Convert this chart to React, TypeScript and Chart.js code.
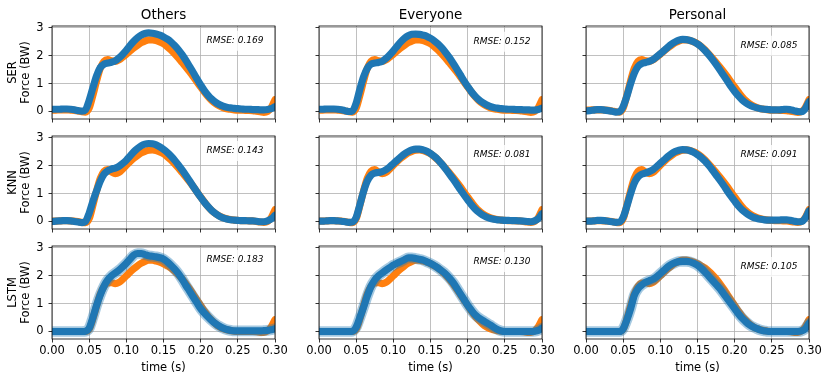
import React, { useEffect, useRef } from 'react';
import { Chart, registerables } from 'chart.js';

Chart.register(...registerables);

// ---------- data ----------
const TIME = [
  0, 0.005, 0.01, 0.015, 0.02, 0.025, 0.03, 0.035, 0.04, 0.045,
  0.05, 0.055, 0.06, 0.065, 0.07, 0.075, 0.08, 0.085, 0.09, 0.095,
  0.1, 0.105, 0.11, 0.115, 0.12, 0.125, 0.13, 0.135, 0.14, 0.145,
  0.15, 0.155, 0.16, 0.165, 0.17, 0.175, 0.18, 0.185, 0.19, 0.195,
  0.2, 0.205, 0.21, 0.215, 0.22, 0.225, 0.23, 0.235, 0.24, 0.245,
  0.25, 0.255, 0.26, 0.265, 0.27, 0.275, 0.28, 0.285, 0.29, 0.295, 0.3,
];
const X_TICKS = [0, 0.05, 0.1, 0.15, 0.2, 0.25, 0.3];
const Y_TICKS = [0, 1, 2, 3];
const MODELS = ['SER', 'KNN', 'LSTM'];
const GROUPS = ['Others', 'Everyone', 'Personal'];

// measured force (orange), one per model row
const ORANGE_SER = [
  0.05, 0.05, 0.06, 0.06, 0.06, 0.05, 0.04, 0.02, -0.01, -0.02,
  0.12, 0.58, 1.1, 1.55, 1.8, 1.86, 1.82, 1.8, 1.85, 1.95,
  2.06, 2.17, 2.28, 2.38, 2.47, 2.53, 2.57, 2.57, 2.55, 2.5,
  2.43, 2.33, 2.21, 2.07, 1.92, 1.76, 1.6, 1.43, 1.25, 1.06,
  0.88, 0.7, 0.53, 0.39, 0.28, 0.2, 0.14, 0.1, 0.08, 0.06,
  0.05, 0.05, 0.04, 0.04, 0.03, 0.01, -0.01, -0.03, 0.0, 0.14, 0.42,
];
const ORANGE_KNN = [
  0.01, 0.01, 0.02, 0.03, 0.03, 0.02, 0.01, 0.0, -0.03, -0.04,
  0.1, 0.58, 1.1, 1.55, 1.8, 1.86, 1.78, 1.72, 1.76, 1.88,
  2.02, 2.15, 2.27, 2.37, 2.46, 2.52, 2.56, 2.57, 2.55, 2.5,
  2.43, 2.33, 2.21, 2.07, 1.92, 1.76, 1.6, 1.43, 1.25, 1.06,
  0.88, 0.7, 0.53, 0.39, 0.28, 0.2, 0.14, 0.1, 0.07, 0.05,
  0.04, 0.03, 0.03, 0.02, 0.02, 0.0, -0.02, -0.03, 0.0, 0.14, 0.42,
];
const ORANGE_LSTM = [
  0, 0, 0, 0, 0, 0, 0, 0, 0, 0,
  0.08, 0.45, 0.92, 1.35, 1.62, 1.74, 1.75, 1.72, 1.76, 1.87,
  2.0, 2.13, 2.25, 2.36, 2.45, 2.52, 2.56, 2.56, 2.53, 2.49,
  2.43, 2.36, 2.28, 2.17, 2.04, 1.89, 1.72, 1.53, 1.33, 1.13,
  0.93, 0.73, 0.55, 0.4, 0.27, 0.17, 0.1, 0.06, 0.03, 0.01,
  0, 0, 0, 0, 0, -0.01, -0.03, -0.03, 0.02, 0.17, 0.42,
];

// predicted force (blue), one per panel
const BLUE_SER_OTHERS = [
  0.08, 0.08, 0.08, 0.09, 0.09, 0.08, 0.06, 0.03, 0.01, 0.06,
  0.4, 0.85, 1.28, 1.58, 1.7, 1.74, 1.77, 1.82, 1.92, 2.05,
  2.2, 2.37, 2.52, 2.65, 2.74, 2.8, 2.82, 2.81, 2.78, 2.74,
  2.68, 2.6, 2.5, 2.37, 2.22, 2.04, 1.84, 1.62, 1.4, 1.17,
  0.95, 0.75, 0.58, 0.44, 0.33, 0.25, 0.19, 0.15, 0.13, 0.11,
  0.1, 0.09, 0.08, 0.08, 0.07, 0.07, 0.06, 0.06, 0.07, 0.1, 0.17,
];
const BLUE_SER_EVERYONE = [
  0.08, 0.08, 0.09, 0.09, 0.09, 0.08, 0.06, 0.03, 0.0, 0.02,
  0.3, 0.8, 1.25, 1.55, 1.7, 1.74, 1.76, 1.8, 1.9, 2.03,
  2.18, 2.34, 2.5, 2.63, 2.72, 2.77, 2.78, 2.77, 2.74, 2.7,
  2.63, 2.54, 2.43, 2.29, 2.13, 1.95, 1.75, 1.54, 1.32, 1.1,
  0.9, 0.71, 0.55, 0.42, 0.32, 0.24, 0.18, 0.14, 0.12, 0.1,
  0.09, 0.08, 0.08, 0.07, 0.07, 0.06, 0.06, 0.05, 0.05, 0.07, 0.12,
];
const BLUE_SER_PERSONAL = [
  0.02, 0.03, 0.05, 0.07, 0.07, 0.05, 0.03, 0.01, -0.02, -0.01,
  0.18, 0.55, 1.0, 1.38, 1.62, 1.72, 1.76, 1.8, 1.86, 1.96,
  2.07, 2.19, 2.31, 2.42, 2.5, 2.56, 2.59, 2.58, 2.55, 2.5,
  2.42, 2.32, 2.19, 2.04, 1.87, 1.69, 1.5, 1.3, 1.1, 0.9,
  0.72, 0.56, 0.42, 0.31, 0.23, 0.17, 0.13, 0.1, 0.08, 0.07,
  0.06, 0.06, 0.06, 0.07, 0.08, 0.06, 0.03, 0.0, -0.01, 0.1, 0.35,
];
const BLUE_KNN_OTHERS = [
  0.0, 0.01, 0.02, 0.03, 0.03, 0.02, 0.0, -0.02, -0.04, 0.0,
  0.3, 0.72, 1.1, 1.45, 1.7, 1.82, 1.88, 1.92, 1.98, 2.08,
  2.2, 2.35, 2.5, 2.62, 2.72, 2.78, 2.8, 2.79, 2.75, 2.68,
  2.59, 2.48, 2.35, 2.2, 2.03, 1.85, 1.66, 1.46, 1.26, 1.06,
  0.87, 0.69, 0.53, 0.39, 0.28, 0.19, 0.13, 0.09, 0.06, 0.05,
  0.04, 0.03, 0.03, 0.02, 0.02, 0.01, -0.01, -0.01, 0.02, 0.09, 0.22,
];
const BLUE_KNN_EVERYONE = [
  0.01, 0.01, 0.02, 0.03, 0.03, 0.02, 0.01, -0.01, -0.03, -0.02,
  0.15, 0.6, 1.08, 1.45, 1.66, 1.74, 1.76, 1.79, 1.86, 1.96,
  2.08, 2.2, 2.32, 2.43, 2.51, 2.57, 2.6, 2.6, 2.57, 2.52,
  2.44, 2.34, 2.22, 2.07, 1.9, 1.72, 1.54, 1.35, 1.15, 0.96,
  0.78, 0.6, 0.45, 0.33, 0.23, 0.16, 0.11, 0.08, 0.06, 0.05,
  0.04, 0.04, 0.03, 0.03, 0.02, 0.01, 0.0, -0.01, 0.02, 0.1, 0.28,
];
const BLUE_KNN_PERSONAL = [
  0.01, 0.01, 0.02, 0.04, 0.04, 0.03, 0.01, -0.01, -0.03, -0.02,
  0.15, 0.55, 1.0, 1.38, 1.6, 1.7, 1.74, 1.79, 1.86, 1.97,
  2.09, 2.21, 2.33, 2.43, 2.51, 2.56, 2.58, 2.57, 2.54, 2.48,
  2.4, 2.3, 2.17, 2.02, 1.85, 1.67, 1.49, 1.3, 1.1, 0.91,
  0.73, 0.56, 0.42, 0.31, 0.22, 0.15, 0.11, 0.08, 0.06, 0.05,
  0.05, 0.05, 0.05, 0.06, 0.06, 0.04, 0.01, -0.01, 0.0, 0.12, 0.38,
];
const BLUE_LSTM_OTHERS = [
  0, 0, 0, 0, 0, 0, 0, 0, 0, 0.01,
  0.12, 0.5, 0.94, 1.32, 1.63, 1.85, 2.0, 2.1, 2.2, 2.32,
  2.45, 2.6, 2.74, 2.8, 2.8, 2.76, 2.72, 2.7, 2.68, 2.65,
  2.6, 2.5, 2.38, 2.24, 2.08, 1.88, 1.66, 1.45, 1.24, 1.03,
  0.82, 0.66, 0.52, 0.39, 0.28, 0.19, 0.12, 0.07, 0.04, 0.02,
  0.02, 0.02, 0.02, 0.02, 0.02, 0.02, 0.02, 0.03, 0.04, 0.06, 0.1,
];
const BLUE_LSTM_EVERYONE = [
  0, 0, 0, 0, 0, 0, 0, 0, 0, 0.01,
  0.15, 0.5, 0.88, 1.28, 1.62, 1.85, 2.0, 2.1, 2.2, 2.29,
  2.38, 2.45, 2.51, 2.58, 2.64, 2.64, 2.62, 2.59, 2.56, 2.5,
  2.44, 2.37, 2.28, 2.18, 2.07, 1.93, 1.77, 1.57, 1.36, 1.15,
  0.94, 0.76, 0.6, 0.49, 0.4, 0.32, 0.24, 0.15, 0.07, 0.02,
  0, 0, 0, 0, 0, 0, 0, 0, 0.01, 0.04, 0.12,
];
const BLUE_LSTM_PERSONAL = [
  0, 0, 0, 0, 0, 0, 0, 0, 0, 0,
  0.1, 0.42, 0.82, 1.3, 1.54, 1.67, 1.76, 1.82, 1.87, 1.96,
  2.08, 2.2, 2.32, 2.41, 2.47, 2.51, 2.52, 2.52, 2.5, 2.45,
  2.38, 2.27, 2.14, 1.99, 1.84, 1.69, 1.54, 1.36, 1.18, 1.0,
  0.82, 0.64, 0.48, 0.35, 0.24, 0.16, 0.1, 0.05, 0.02, 0.0,
  0, 0, 0, 0, 0, 0, 0, 0, 0.02, 0.1, 0.3,
];

const RMSE_SER = ['0.169', '0.152', '0.085'];
const RMSE_KNN = ['0.143', '0.081', '0.091'];
const RMSE_LSTM = ['0.183', '0.130', '0.105'];

const ORANGE = [ORANGE_SER, ORANGE_KNN, ORANGE_LSTM];
const BLUE = [
  [BLUE_SER_OTHERS, BLUE_SER_EVERYONE, BLUE_SER_PERSONAL],
  [BLUE_KNN_OTHERS, BLUE_KNN_EVERYONE, BLUE_KNN_PERSONAL],
  [BLUE_LSTM_OTHERS, BLUE_LSTM_EVERYONE, BLUE_LSTM_PERSONAL],
];
const RMSE = [RMSE_SER, RMSE_KNN, RMSE_LSTM];

// ---------- layout / style ----------
const COL_LEFT = [52, 319, 586];
const ROW_TOP = [26, 136, 246];
const PW = 223;
const PH = 93;
const PAD_L = 52;
const PAD_R = 22;
const PAD_T = 26;
const PAD_B = 46;
const Y_MIN = -0.27;
const Y_MAX = 3.07;
const RMSE_DY = [
  [14.7, 15.7, 19.7],
  [15, 19, 19],
  [14, 16, 21],
];
const FONT = "'DejaVu Sans'";
const C_ORANGE = '#ff7f0e';
const C_BLUE = '#1f77b4';
const LINE_W = 7.2;

Chart.defaults.font.family = FONT;

function Panel({ r, c }: { r: number; c: number }) {
  const ref = useRef<HTMLCanvasElement | null>(null);
  const cw = PAD_L + PW + PAD_R;
  const ch = PAD_T + PH + PAD_B;

  useEffect(() => {
    const canvas = ref.current;
    if (!canvas) return;
    const pts = (arr: number[]) => arr.map((y, i) => ({ x: TIME[i], y }));
    const common = {
      pointRadius: 0,
      fill: false,
      cubicInterpolationMode: 'monotone' as const,
      borderJoinStyle: 'round' as const,
      borderCapStyle: 'round' as const,
      clip: 0,
    };
    // Chart.js paints dataset 0 last (on top): blue first, orange last
    const datasets: any[] = [
      { ...common, data: pts(BLUE[r][c]), borderColor: C_BLUE, borderWidth: LINE_W },
    ];
    if (r === 2) {
      datasets.push({ ...common, data: pts(BLUE[r][c]), borderColor: 'rgba(31,119,180,0.4)', borderWidth: LINE_W + 3.5 });
    }
    datasets.push({ ...common, data: pts(ORANGE[r]), borderColor: C_ORANGE, borderWidth: LINE_W });

    const deco = {
      id: 'deco',
      afterDatasetsDraw(chart: any) {
        const { ctx, chartArea: a } = chart;
        ctx.save();
        ctx.strokeStyle = '#000';
        ctx.lineWidth = 0.8;
        ctx.strokeRect(a.left, a.top, a.right - a.left, a.bottom - a.top);

        // RMSE box
        const text = 'RMSE: ' + RMSE[r][c];
        ctx.font = `italic 9px ${FONT}`;
        const tw = ctx.measureText(text).width;
        const xr = a.right - 11.5;
        const cy = a.top + RMSE_DY[r][c];
        ctx.fillStyle = 'rgba(255,255,255,0.8)';
        ctx.beginPath();
        if (ctx.roundRect) ctx.roundRect(xr - tw - 4.5, cy - 10, tw + 9, 20, 2);
        else ctx.rect(xr - tw - 4.5, cy - 10, tw + 9, 20);
        ctx.fill();
        ctx.fillStyle = '#000';
        ctx.textAlign = 'right';
        ctx.textBaseline = 'middle';
        ctx.fillText(text, xr, cy);

        // column title
        if (r === 0) {
          ctx.font = `13.5px ${FONT}`;
          ctx.textAlign = 'center';
          ctx.textBaseline = 'alphabetic';
          ctx.fillText(GROUPS[c], (a.left + a.right) / 2, a.top - 7);
        }
        // y label
        if (c === 0) {
          ctx.font = `11.5px ${FONT}`;
          ctx.textAlign = 'center';
          ctx.textBaseline = 'middle';
          const cyy = (a.top + a.bottom) / 2;
          ctx.save();
          ctx.translate(a.left - 39.3, cyy);
          ctx.rotate(-Math.PI / 2);
          ctx.fillText(MODELS[r], 0, 0);
          ctx.restore();
          ctx.save();
          ctx.translate(a.left - 25.5, cyy);
          ctx.rotate(-Math.PI / 2);
          ctx.fillText('Force (BW)', 0, 0);
          ctx.restore();
        }
        // x label
        if (r === 2) {
          ctx.font = `11.5px ${FONT}`;
          ctx.textAlign = 'center';
          ctx.textBaseline = 'middle';
          ctx.fillText('time (s)', (a.left + a.right) / 2, a.bottom + 28.7);
        }
        ctx.restore();
      },
    };

    const gridOpts = {
      color: '#b0b0b0',
      lineWidth: 0.8,
      tickColor: '#000',
      tickLength: 3.5,
      tickWidth: 0.8,
      drawTicks: true,
    };

    const chart = new Chart(canvas, {
      type: 'line',
      data: { datasets },
      options: {
        animation: false,
        responsive: false,
        events: [],
        layout: { padding: { left: 0, top: PAD_T, right: PAD_R, bottom: 0 } },
        plugins: {
          legend: { display: false },
          tooltip: { enabled: false },
          title: { display: false },
        },
        scales: {
          x: {
            type: 'linear',
            min: 0,
            max: 0.3,
            afterBuildTicks: (s: any) => {
              s.ticks = X_TICKS.map((v) => ({ value: v }));
            },
            afterFit: (s: any) => {
              s.height = PAD_B;
            },
            ticks: {
              autoSkip: false,
              maxRotation: 0,
              minRotation: 0,
              padding: 1.5,
              color: '#000',
              font: { size: 11.5, family: FONT },
              callback: (v: any) => (r === 2 ? Number(v).toFixed(2) : ''),
            },
            grid: gridOpts,
            border: { display: false },
          },
          y: {
            type: 'linear',
            min: Y_MIN,
            max: Y_MAX,
            afterBuildTicks: (s: any) => {
              s.ticks = Y_TICKS.map((v) => ({ value: v }));
            },
            afterFit: (s: any) => {
              s.width = PAD_L;
            },
            ticks: {
              padding: 5,
              color: '#000',
              font: { size: 11.5, family: FONT },
              callback: (v: any) => (c === 0 ? String(v) : ''),
            },
            grid: gridOpts,
            border: { display: false },
          },
        },
      },
      plugins: [deco],
    } as any);
    return () => chart.destroy();
  }, [r, c]);

  return (
    <canvas
      ref={ref}
      width={cw}
      height={ch}
      style={{
        position: 'absolute',
        left: COL_LEFT[c] - PAD_L,
        top: ROW_TOP[r] - PAD_T,
        width: cw,
        height: ch,
      }}
    />
  );
}

export default function App() {
  const panels = [];
  for (let r = 0; r < 3; r++) {
    for (let c = 0; c < 3; c++) {
      panels.push(<Panel key={`${r}-${c}`} r={r} c={c} />);
    }
  }
  return (
    <div
      style={{
        position: 'fixed',
        left: 0,
        top: 0,
        width: 831,
        height: 382,
        overflow: 'hidden',
        background: '#fff',
      }}
    >
      {panels}
    </div>
  );
}
